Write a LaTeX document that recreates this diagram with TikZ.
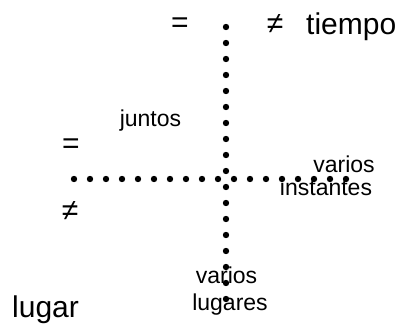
\documentclass[tikz,border=0pt]{standalone}
\usepackage{fontspec}
\setmainfont{Liberation Sans}
\begin{document}
\begin{tikzpicture}[x=1pt,y=-1pt,
  big/.style={inner sep=0pt,font=\fontsize{30}{30}\selectfont},
  small/.style={inner sep=0pt,font=\fontsize{23}{23}\selectfont},
  dotline/.style={line width=6.4pt,line cap=round,dash pattern=on 0pt off 16pt}]
\useasboundingbox (0,0) rectangle (403,326);
\fill[white] (0,0) rectangle (403,326);
\coordinate (vtop) at (226,27);
\coordinate (vbot) at (226,315);
\coordinate (hleft) at (74,179);
\coordinate (hright) at (362,179);
\draw[dotline] (vtop) -- (vbot);
\draw[dotline] (hleft) -- (hright);
\node[big,anchor=base] (eqt) at (180,33) {=};
\node[big,anchor=base] (neqt) at (275,34) {≠};
\node[big,anchor=base west] (tiempo) at (306,35) {tiempo};
\node[big,anchor=base] (eql) at (71,153) {=};
\node[big,anchor=base] (neql) at (70,220) {≠};
\node[small,anchor=base] (juntos) at (150.5,126) {juntos};
\node[small,anchor=base] (vi1) at (344,172) {varios};
\node[small,anchor=base] (vi2) at (326,195) {instantes};
\node[small,anchor=base] (vl1) at (226.5,283) {varios};
\node[small,anchor=base] (vl2) at (230,310) {lugares};
\node[big,anchor=base west] (lugar) at (12,317) {lugar};
\end{tikzpicture}
\end{document}
